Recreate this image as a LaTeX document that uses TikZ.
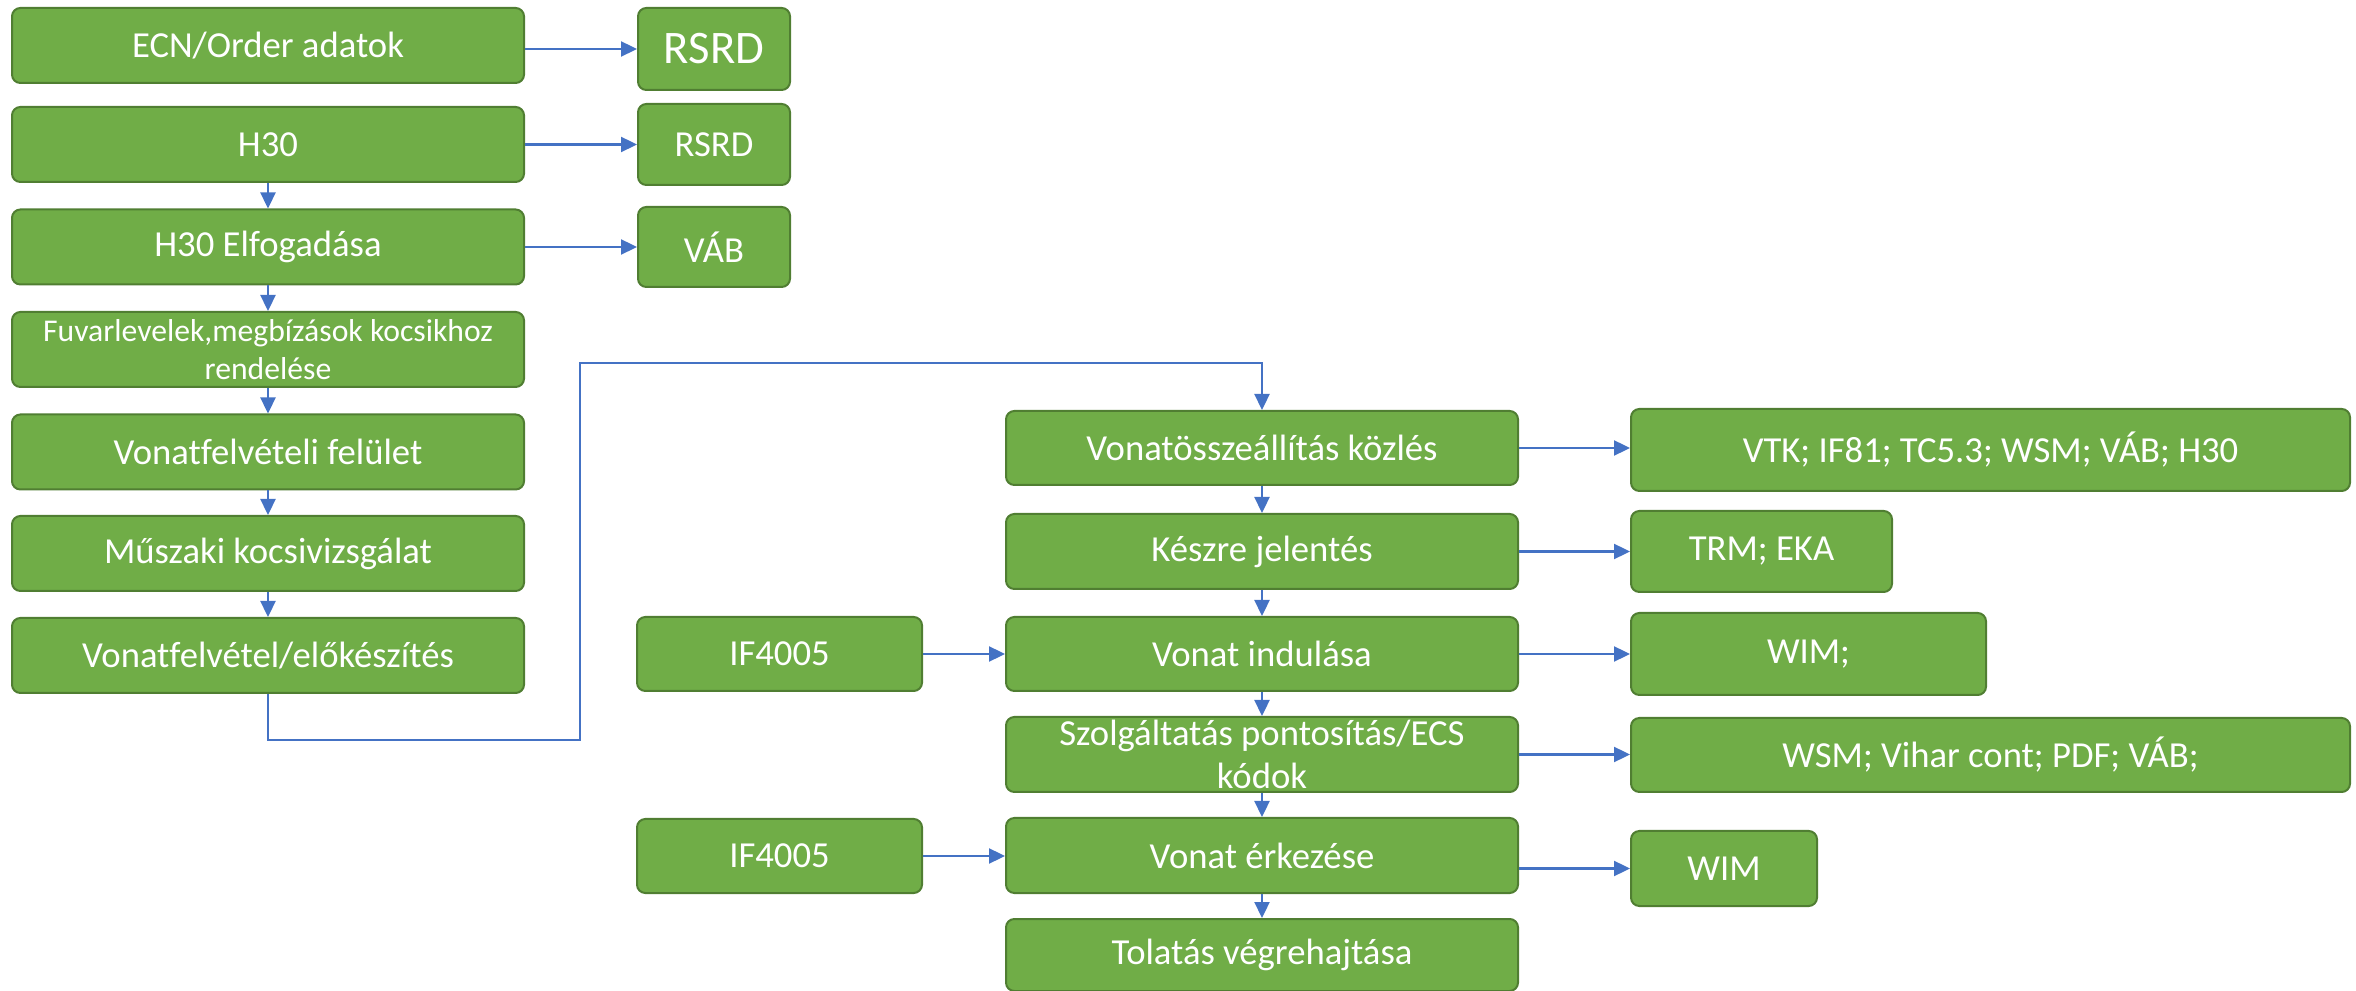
\documentclass[tikz,border=0pt]{standalone}
\usepackage{fontspec}
\setmainfont{Carlito}[Ligatures=NoCommon]
\usetikzlibrary{arrows.meta}
\definecolor{boxfill}{HTML}{70AD47}
\definecolor{boxline}{HTML}{507E32}
\definecolor{linkblue}{HTML}{4472C4}
\begin{document}
\begin{tikzpicture}[x=0.3pt, y=-0.3pt,
  box/.style={draw=boxline, fill=boxfill, line width=0.6pt, rounded corners=2.5pt, text=white, inner sep=0pt, align=center, font=\fontsize{11}{13}\selectfont},
  sz/.style 2 args={minimum width=#1*0.3pt, minimum height=#2*0.3pt},
  arr/.style={draw=linkblue, line width=0.7pt, -{Triangle[length=4.8pt,width=4.5pt]}}]
\useasboundingbox (0,0) rectangle (2356,991);
% left column
\node[box, sz={512}{75}] (ecn) at (268,45.5) {ECN/Order adatok};
\node[box, sz={512}{75}] (h30) at (268,144.5) {H30};
\node[box, sz={512}{75}] (h30e) at (268,247) {H30 Elfogadása};
\node[box, sz={512}{75}, font=\fontsize{9.5}{11.3}\selectfont] (fuv) at (268,349.5) {Fuvarlevelek,megbízások kocsikhoz\\rendelése};
\node[box, sz={512}{75}] (vfel) at (268,452) {Vonatfelvételi felület};
\node[box, sz={512}{75}] (musz) at (268,553.5) {Műszaki kocsivizsgálat};
\node[box, sz={512}{75}] (velo) at (268,655.5) {Vonatfelvétel/előkészítés};
% small right boxes top
\node[box, sz={152}{82}, font=\fontsize{14}{16}\selectfont] (rsrda) at (714,49) {RSRD};
\node[box, sz={152}{81}] (rsrdb) at (714,144.5) {RSRD};
\node[box, sz={152}{80}] (vab) at (714,247) {VÁB};
% middle column
\node[box, sz={512}{74}] (vossz) at (1262,448) {Vonatösszeállítás közlés};
\node[box, sz={512}{75}] (kesz) at (1262,551.5) {Készre jelentés};
\node[box, sz={512}{74}] (vind) at (1262,654) {Vonat indulása};
\node[box, sz={512}{75}] (szolg) at (1262,754.5) {Szolgáltatás pontosítás/ECS\\kódok};
\node[box, sz={512}{75}] (verk) at (1262,855.5) {Vonat érkezése};
\node[box, sz={512}{72}] (tol) at (1262,955) {Tolatás végrehajtása};
\node[box, sz={285}{74}] (ifa) at (779.5,654) {IF4005};
\node[box, sz={285}{74}] (ifb) at (779.5,856) {IF4005};
% right column
\node[box, sz={719}{82}] (vtk) at (1990.5,450) {VTK; IF81; TC5.3; WSM; VÁB; H30};
\node[box, sz={261}{81}] (trm) at (1761.5,551.5) {TRM; EKA};
\node[box, sz={355}{82}] (wima) at (1808.5,654) {WIM;};
\node[box, sz={719}{74}] (wsm) at (1990.5,755) {WSM; Vihar cont; PDF; VÁB;};
\node[box, sz={186}{75}] (wimb) at (1724,868.5) {WIM};
% connectors left
\draw[arr] (ecn.east |- rsrda.west) -- (rsrda.west);
\draw[arr] (h30) -- (rsrdb);
\draw[arr] (h30e) -- (vab);
\draw[arr] (h30) -- (h30e);
\draw[arr] (h30e) -- (fuv);
\draw[arr] (fuv) -- (vfel);
\draw[arr] (vfel) -- (musz);
\draw[arr] (musz) -- (velo);
\coordinate (ca) at (580,740);
\coordinate (cb) at (580,363);
\draw[arr] (velo.south) |- (ca) -- (cb) -| (vossz.north);
% middle chain
\draw[arr] (vossz) -- (kesz);
\draw[arr] (kesz) -- (vind);
\draw[arr] (vind) -- (szolg);
\draw[arr] (szolg) -- (verk);
\draw[arr] (verk) -- (tol);
\draw[arr] (ifa) -- (vind);
\draw[arr] (ifb.east) -- (verk.west |- ifb.east);
% right connectors
\draw[arr] (vossz.east) -- (vtk.west |- vossz.east);
\draw[arr] (kesz) -- (trm);
\draw[arr] (vind) -- (wima);
\draw[arr] (szolg.east) -- (wsm.west |- szolg.east);
\draw[arr] (verk.east |- wimb.west) -- (wimb.west);
\end{tikzpicture}
\end{document}
